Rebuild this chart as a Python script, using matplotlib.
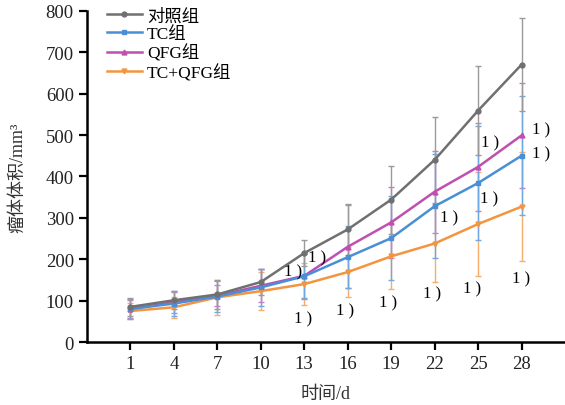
import matplotlib
matplotlib.use('Agg')
import matplotlib.pyplot as plt

plt.rcParams['font.family'] = ['Liberation Serif', 'Noto Sans CJK SC']

days = [1, 4, 7, 10, 13, 16, 19, 22, 25, 28]

control = [85, 101, 115, 145, 215, 272, 344, 440, 559, 670]
control_err = [22, 22, 35, 32, 32, 61, 82, 104, 108, 113]

tc = [80, 93, 110, 132, 159, 205, 251, 328, 384, 450]
tc_err = [25, 30, 38, 45, 53, 75, 102, 125, 137, 143]

qfg = [80, 96, 112, 136, 160, 230, 289, 363, 423, 499]
qfg_err = [22, 25, 25, 40, 55, 100, 85, 99, 106, 127]

combo = [75, 84, 108, 123, 140, 169, 207, 238, 285, 327]
combo_err = [20, 25, 42, 45, 50, 60, 80, 92, 125, 132]

# "1)" significance marks (day, volume)
mark_x = [12.25, 13.86, 12.94, 15.8, 18.8, 21.8, 23.0, 24.6, 25.75, 27.98, 25.8, 29.35, 29.35]
mark_y = [170, 205, 57, 76, 95, 118, 302, 130, 348, 154, 481, 513, 455]

series = [
    ('对照组', control, control_err, '#707070', '#9a9a9a', 'o'),
    ('TC组', tc, tc_err, '#4a8fd6', '#6fa8e2', 's'),
    ('QFG组', qfg, qfg_err, '#bf4fb0', '#cf7cc4', '^'),
    ('TC+QFG组', combo, combo_err, '#f39540', '#f5ad6c', 'v'),
]

fig = plt.figure(figsize=(5.65, 4.06), dpi=100)
ax = fig.add_axes([0.154, 0.155, 0.846, 0.816])

lines = {}
for label, y, err, color, ecolor, marker in reversed(series):
    c = ax.errorbar(days, y, yerr=err, color=color, ecolor=ecolor, elinewidth=1.0,
                    capsize=2.5, capthick=1.0, lw=1.8, marker=marker, ms=3.5)
    lines[label] = c[0]

for mx, my in zip(mark_x, mark_y):
    ax.text(mx, my, '1 )', fontsize=12, ha='center', va='center')

ax.set_xlim(-2, 31)
ax.set_ylim(0, 800)
ax.set_xticks(days)
ax.set_yticks(range(0, 801, 100))
ax.spines['top'].set_visible(False)
ax.spines['right'].set_visible(False)
ax.spines['left'].set_linewidth(1.8)
ax.spines['bottom'].set_linewidth(1.8)
ax.tick_params(direction='out', length=6, width=1.6, labelsize=13.5, colors='black')
for t in ax.get_xticklabels() + ax.get_yticklabels():
    t.set_color('#222222')

ax.set_xlabel('时间/d', fontsize=13, labelpad=9, color='#333333')
ax.set_ylabel('瘤体体积/mm³', fontsize=13, labelpad=14, color='#333333')

labels = [s[0] for s in series]
ax.legend([lines[l] for l in labels], labels, loc='upper left', bbox_to_anchor=(0.02, 1.04),
          frameon=False, fontsize=12.5, handlelength=2.0, labelspacing=0.12,
          handletextpad=0.3, borderaxespad=0.2)

fig.savefig('out.png', dpi=100)
